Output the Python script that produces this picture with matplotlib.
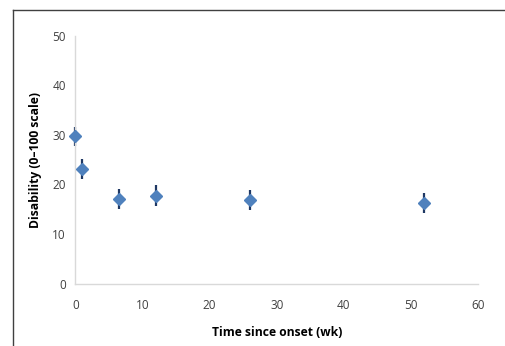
import matplotlib
matplotlib.use("Agg")
import matplotlib.pyplot as plt
from matplotlib.lines import Line2D

# Data
weeks = [0, 1, 6.5, 12, 26, 52]
disability = [29.7, 23.2, 17.1, 17.7, 16.9, 16.2]
err = [1.9, 2.0, 2.0, 2.1, 2.0, 2.0]
x_ticks = [0, 10, 20, 30, 40, 50, 60]
y_ticks = [0, 10, 20, 30, 40, 50]

plt.rcParams['font.family'] = ['Open Sans', 'DejaVu Sans']

fig = plt.figure(figsize=(5.05, 3.46), dpi=100)
ax = fig.add_axes([0.1495, 0.180, 0.797, 0.717])

ax.errorbar(weeks, disability, yerr=err, fmt='none', ecolor='#1F3864',
            elinewidth=1.6, capsize=0, zorder=2, clip_on=False)
ax.plot(weeks, disability, linestyle='none', marker='D', markersize=6.3,
        color='#4F81BD', markeredgecolor='#4F81BD', zorder=3, clip_on=False)

ax.set_xlim(0, 60)
ax.set_ylim(0, 50)
ax.set_xticks(x_ticks)
ax.set_yticks(y_ticks)
ax.tick_params(length=0, labelsize=8.5, colors='#404040', pad=7)
ax.tick_params(axis='x', pad=11)
for s in ['top', 'right']:
    ax.spines[s].set_visible(False)
for s in ['left', 'bottom']:
    ax.spines[s].set_color('#D9D9D9')
    ax.spines[s].set_linewidth(1.0)

ax.set_xlabel('Time since onset (wk)', fontsize=8.7, fontweight='bold', labelpad=10)
ax.set_ylabel('Disability (0\u2013100 scale)', fontsize=8.7, fontweight='bold', labelpad=7)

# outer frame (left and top edges visible in the reference)
fig.add_artist(Line2D([0.026, 0.026], [0, 0.971], transform=fig.transFigure,
                      color='#404040', linewidth=1.0))
fig.add_artist(Line2D([0.026, 1.0], [0.971, 0.971], transform=fig.transFigure,
                      color='#404040', linewidth=1.0))

fig.savefig('out.png', dpi=100)
